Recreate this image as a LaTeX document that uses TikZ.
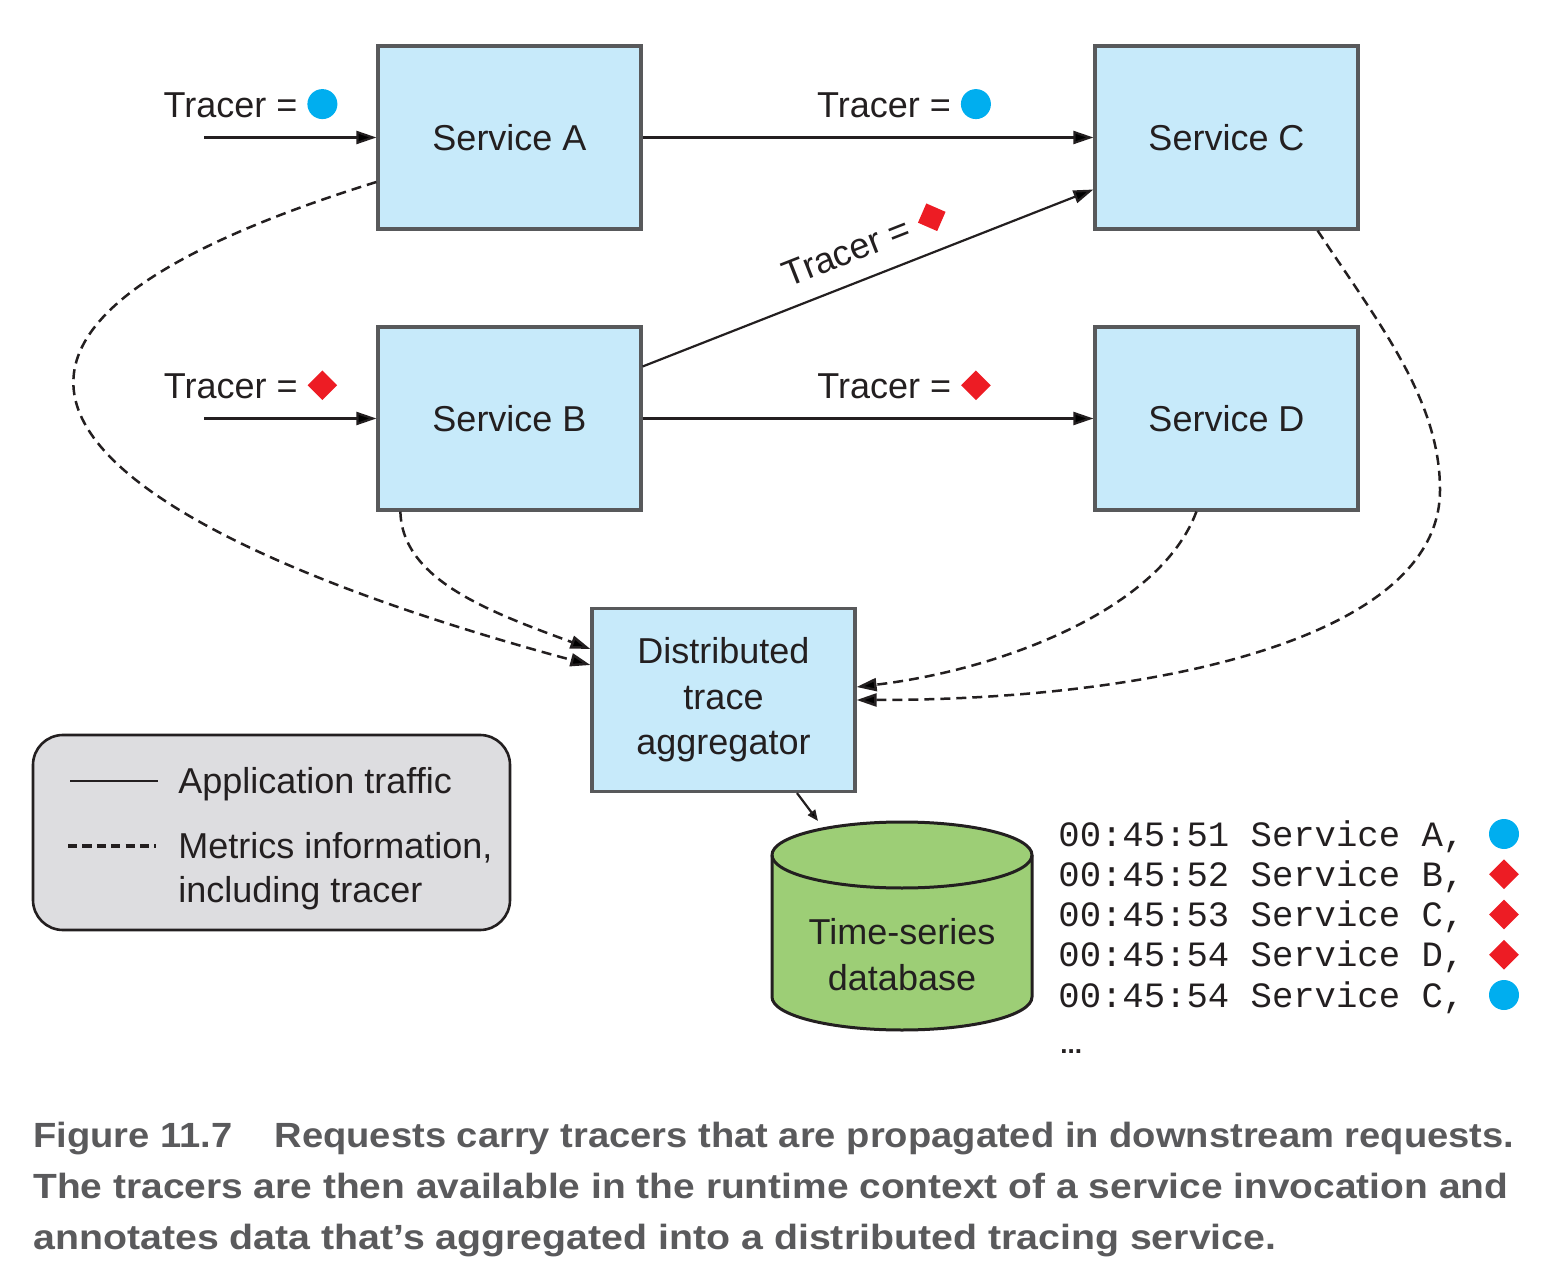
\documentclass[tikz,border=0pt]{standalone}
\usepackage{graphicx}
\usepackage{fontspec}
\setmainfont{Liberation Sans}
\setmonofont{Liberation Mono}
\usetikzlibrary{arrows.meta,shapes.geometric,calc,positioning}

\definecolor{svcblue}{RGB}{199,234,250}
\definecolor{svcedge}{RGB}{88,89,91}
\definecolor{inkblack}{RGB}{35,31,32}
\definecolor{tracercyan}{RGB}{0,174,239}
\definecolor{tracerred}{RGB}{237,28,36}
\definecolor{dbgreen}{RGB}{157,206,118}
\definecolor{legendgray}{RGB}{221,221,224}
\definecolor{captiongray}{RGB}{90,90,92}

\tikzset{
  service/.style={rectangle, draw=svcedge, fill=svcblue, line width=1.6pt,
    minimum width=131.5pt, minimum height=91.5pt, align=center,
    font=\fontsize{18}{22.75}\selectfont, text=inkblack},
  traffic/.style={draw=inkblack, line width=1.1pt, -{Triangle[length=10pt,width=6.5pt]}},
  metrics/.style={traffic, line width=1.25pt, dash pattern=on 5pt off 3pt},
  tracer/.style={font=\fontsize{18}{22}\selectfont, text=inkblack, inner sep=0pt, above=9pt},
  dotmark/.style={circle, fill=tracercyan, minimum size=15pt, inner sep=0pt, anchor=center},
  gemmark/.style={diamond, fill=tracerred, minimum size=15pt, inner sep=0pt, anchor=center},
  plaintext/.style={font=\fontsize{18}{22}\selectfont, text=inkblack, inner sep=0pt},
  logline/.style={font=\ttfamily\fontsize{17.8}{20}\selectfont, text=inkblack,
    anchor=base west, inner sep=0pt},
  caption/.style={font=\bfseries\fontsize{17.5}{20}\selectfont, text=captiongray,
    anchor=base west, inner sep=0pt},
}
\newcommand{\bluedot}{\tikz[baseline=-0.36em]\node[dotmark]{};}
\newcommand{\reddiamond}{\tikz[baseline=-0.36em]\node[gemmark]{};}

\begin{document}
\begin{tikzpicture}[x=0.5pt, y=-0.5pt]
  \useasboundingbox (0,0) rectangle (1542,1288);

  % services
  \node[service] (A)   at (509.5,137.5)  {Service A};
  \node[service] (B)   at (509.5,418.5)  {Service B};
  \node[service] (C)   at (1226.5,137.5) {Service C};
  \node[service] (D)   at (1226.5,418.5) {Service D};
  \node[service] (agg) at (723.5,700)    {Distributed\\trace\\aggregator};

  % application traffic
  \coordinate (inA) at (204,137.5);
  \coordinate (inB) at (204,418.5);
  \draw[traffic] (inA) -- (A) node[tracer, pos=0.27] {Tracer = \bluedot};
  \draw[traffic] (inB) -- (B) node[tracer, pos=0.27] {Tracer = \reddiamond};
  \draw[traffic] (A) -- (C) node[tracer, pos=0.58] {Tracer = \bluedot};
  \draw[traffic] (B) -- (D) node[tracer, pos=0.58] {Tracer = \reddiamond};
  \draw[traffic] ($(B.east)+(0,-52)$) -- ($(C.west)+(0,52)$)
    node[tracer, sloped, pos=0.52] {Tracer = \reddiamond};

  % metrics to the aggregator
  \draw[metrics] ($(A.west)+(0,44.5)$) .. controls (-230,370) and (200,560) .. ($(agg.west)+(0,-35)$);
  \draw[metrics] ($(B.south west)+(24,0)$) .. controls (402,580) and (490,612) .. ($(agg.west)+(0,-51)$);
  \draw[metrics] ($(D.south west)+(103,0)$) .. controls (1160,610) and (1000,670) .. ($(agg.east)+(0,-13)$);
  \draw[metrics] ($(C.south east)+(-42,0)$) .. controls (1380,325) and (1440,400) .. (1440,490)
    .. controls (1440,640) and (1150,700) .. (agg.east);

  % time-series database
  \draw[draw=inkblack, fill=dbgreen, line width=1.5pt] (772,855) -- (772,997)
    arc[start angle=180, end angle=360, x radius=65pt, y radius=16.5pt] -- (1032,855)
    arc[start angle=0, end angle=180, x radius=65pt, y radius=16.5pt] -- cycle;
  \draw[draw=inkblack, line width=1.5pt] (772,855)
    arc[start angle=180, end angle=360, x radius=65pt, y radius=16.5pt];
  \node[plaintext, align=center, font=\fontsize{18}{23}\selectfont] (db) at (902,955) {Time-series\\database};
  \coordinate (dbtop) at (818,821);
  \draw[traffic, -{Triangle[length=5.5pt,width=4.5pt]}] ($(agg.south)+(73.5,0)$) -- (dbtop);

  % stored traces
  \foreach \stamp/\svc/\mk [count=\i from 0] in {00:45:51/A/dotmark, 00:45:52/B/gemmark,
      00:45:53/C/gemmark, 00:45:54/D/gemmark, 00:45:54/C/dotmark} {
    \node[logline] (log\i) at (1058,{846+40.25*\i}) {\stamp{} Service \svc,};
    \node[\mk] (mark\i) at (1504,{834+40.25*\i}) {};
  }
  \node[plaintext, anchor=base west, font=\bfseries\fontsize{13}{16}\selectfont] (more) at (1060,1053) {...};

  % legend
  \node[draw=inkblack, fill=legendgray, line width=1.3pt, rounded corners=15pt,
    minimum width=238.5pt, minimum height=97.5pt] (legend) at (271.5,832.5) {};
  \draw[inkblack, line width=1.3pt] (70,781) -- (158,781);
  \draw[inkblack, line width=1.8pt, dash pattern=on 4.6pt off 2.6pt] (68,846) -- (156,846);
  \node[plaintext, anchor=west] (lgApp) at (178,784) {Application traffic};
  \node[plaintext, anchor=west, align=left] (lgMet) at (178,871) {Metrics information,\\including tracer};

  % caption
  \node[caption] (cap1) at (33,1147) {\resizebox{740.5pt}{\height}{Figure 11.7\hspace{1.1em}Requests carry tracers that are propagated in downstream requests.}};
  \node[caption] (cap2) at (33,1198) {\resizebox{737.5pt}{\height}{The tracers are then available in the runtime context of a service invocation and}};
  \node[caption] (cap3) at (33,1249) {\resizebox{621.5pt}{\height}{annotates data that’s aggregated into a distributed tracing service.}};
\end{tikzpicture}
\end{document}
